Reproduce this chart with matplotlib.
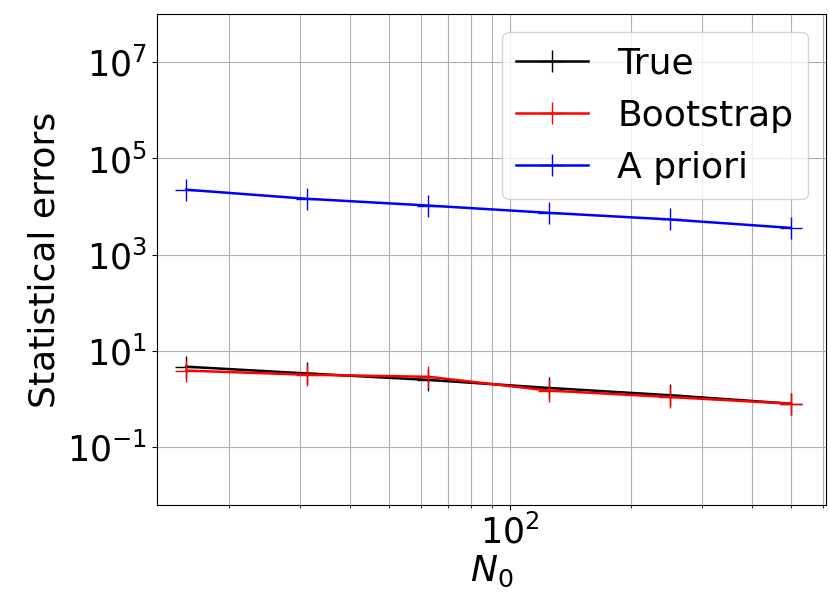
import numpy as np
import matplotlib.pyplot as plt

n0 = [15.625, 31.25, 62.5, 125, 250, 500]
err_true = [4.7, 3.4, 2.5, 1.7, 1.2, 0.8]
err_boot = [3.9, 3.2, 2.9, 1.5, 1.1, 0.8]
err_apriori = [22400, 14500, 10500, 7400, 5400, 3600]

fig, ax = plt.subplots(figsize=(8.3, 6.12), dpi=100)
ax.loglog(n0, err_true, color='black', marker='+', markersize=16, lw=1.8, label='True')
ax.loglog(n0, err_boot, color='red', marker='+', markersize=16, lw=1.8, label='Bootstrap')
ax.loglog(n0, err_apriori, color='blue', marker='+', markersize=16, lw=1.8, label='A priori')

ax.set_xlim(13.2, 611)
ax.set_ylim(10**-2.2, 10**8)
ax.set_yticks([1e-1, 1e1, 1e3, 1e5, 1e7])
ax.yaxis.set_minor_locator(plt.NullLocator())
ax.grid(True, which='both', color='#b0b0b0')
ax.tick_params(labelsize=25)
ax.set_xlabel('$N_0$', fontsize=26, labelpad=2)
ax.set_ylabel('Statistical errors', fontsize=26)
ax.legend(fontsize=26, loc='upper right')
fig.subplots_adjust(left=0.189, right=0.995, top=0.977, bottom=0.175)
plt.savefig('out.png')
